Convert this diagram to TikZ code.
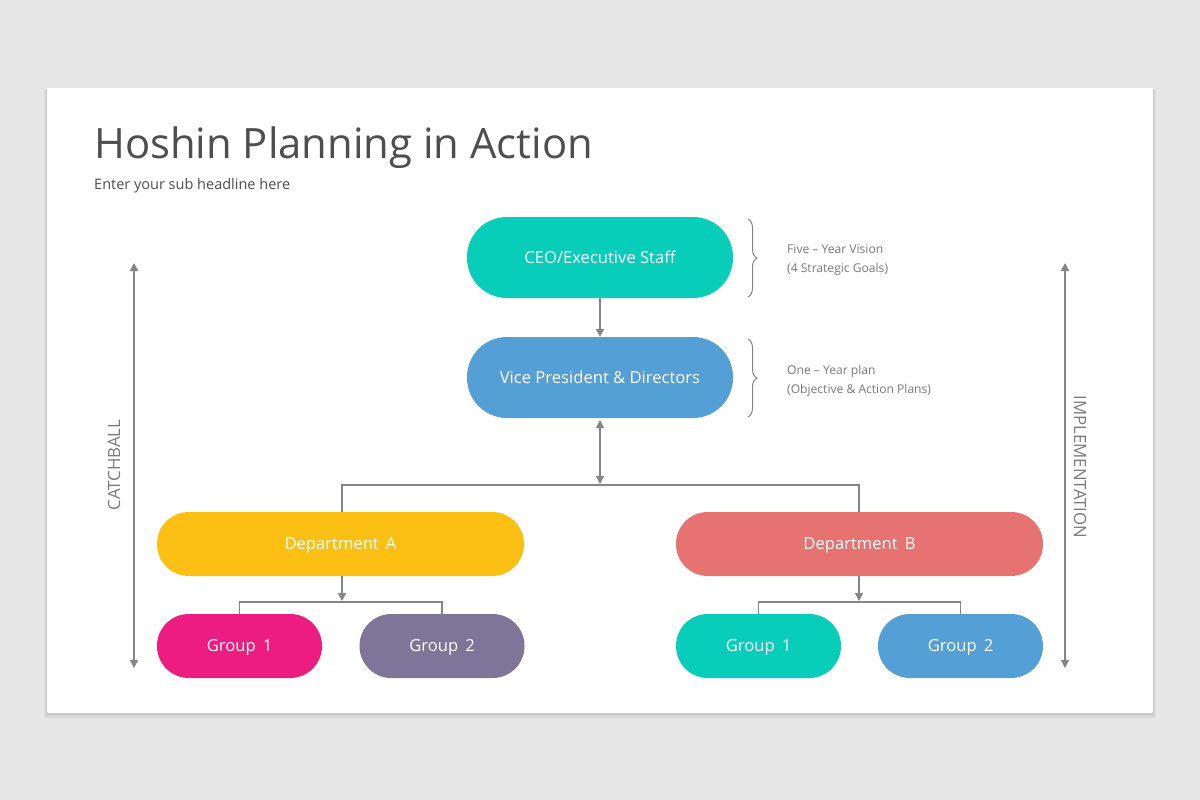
\documentclass[tikz,border=0pt]{standalone}
\usepackage{fontspec}
\setmainfont{Open Sans}
\usetikzlibrary{arrows.meta,decorations.pathreplacing,calc}
\definecolor{bg}{HTML}{E8E7E8}
\definecolor{cteal}{HTML}{08CEB9}
\definecolor{cblue}{HTML}{559FD7}
\definecolor{cyellow}{HTML}{FBC013}
\definecolor{cred}{HTML}{E67272}
\definecolor{cpink}{HTML}{EC1C80}
\definecolor{cpurple}{HTML}{7F7599}
\definecolor{ctitle}{HTML}{4E4E4E}
\definecolor{cnote}{HTML}{7A7A7A}
\definecolor{cline}{HTML}{858585}
\begin{document}
\begin{tikzpicture}[x=1pt,y=-1pt,
  boxtext/.style={text=white,font=\fontsize{16.6}{19}\selectfont,inner sep=0pt,text height=11.9pt,text depth=0pt},
  pill/.style={boxtext,rounded corners=40pt,minimum width=266pt,minimum height=81pt},
  dept/.style={boxtext,rounded corners=31.8pt,minimum width=367pt,minimum height=64pt},
  grp/.style={boxtext,rounded corners=31.8pt,minimum width=165pt,minimum height=64pt},
  conn/.style={draw=cline,line width=1.4pt},
  tip/.style={-{Triangle[width=8pt,length=8pt]}},
  dtip/.style={{Triangle[width=8pt,length=8pt]}-{Triangle[width=8pt,length=8pt]}},
  note/.style={text=cnote,font=\fontsize{12.1}{19}\selectfont,align=left,anchor=west,inner sep=0pt},
  side/.style={text=cnote,font=\fontsize{16.8}{19}\selectfont,inner sep=0pt},
  bracestyle/.style={draw=cline,line width=1pt,decorate,decoration={brace,amplitude=9pt,aspect=0.5}}
]
\useasboundingbox (0,0) rectangle (1200,800);
\fill[bg] (0,0) rectangle (1200,800);
% card shadow
\foreach \i/\o in {6/0.03,4/0.04,2/0.06}{
  \fill[black,opacity=\o] (47-\i*0.5,90-\i*0.2) rectangle (1153+\i*0.5,713+\i);
}
\fill[white] (47,88) rectangle (1153,713);

% titles
\node[anchor=base west,inner sep=0pt,text=ctitle,font=\fontsize{41.8}{48}\selectfont] (title) at (94,158) {Hoshin Planning in Action};
\node[anchor=base west,inner sep=0pt,text=ctitle,font=\fontsize{14.5}{17}\selectfont] (sub) at (94,189) {Enter your sub headline here};

% nodes
\node[pill,fill=cteal] (ceo) at (600,257.5) {CEO/Executive Staff};
\node[pill,fill=cblue] (vp) at (600,377.5) {Vice President \& Directors};
\node[dept,fill=cyellow] (da) at (340.5,544) {Department\, A};
\node[dept,fill=cred] (db) at (859.5,544) {Department\, B};
\node[grp,fill=cpink] (a1) at (239.5,646) {Group\, 1};
\node[grp,fill=cpurple] (a2) at (442,646) {Group\, 2};
\node[grp,fill=cteal] (b1) at (758.5,646) {Group\, 1};
\node[grp,fill=cblue] (b2) at (960.5,646) {Group\, 2};

% connectors
\coordinate (hub) at (600,485);
\coordinate (ja) at (342,602);
\coordinate (jb) at (859,602);
\draw[conn,tip] (ceo.south) -- (vp.north);
\draw[conn,dtip] ($(vp.south)+(0,2)$) -- ($(hub)+(0,-1)$);
\draw[conn] (da.north -| ja) -- (ja |- hub) -- (jb |- hub) -- (db.north -| jb);
\draw[conn,tip] (da.south -| ja) -- ($(ja)+(0,-1)$);
\draw[conn,tip] (db.south -| jb) -- ($(jb)+(0,-1)$);
\draw[conn] (a1.north) -- (a1.north |- ja) -- (a2.north |- ja) -- (a2.north);
\draw[conn] (b1.north) -- (b1.north |- jb) -- (b2.north |- jb) -- (b2.north);

% braces and notes
\coordinate (bc1) at (748,219);
\coordinate (bc2) at (748,297);
\coordinate (bv1) at (748,339);
\coordinate (bv2) at (748,417);
\draw[bracestyle] (bc1) -- (bc2);
\draw[bracestyle] (bv1) -- (bv2);
\node[note] (n1) at (787,260.5) {Five -- Year Vision\\(4 Strategic Goals)};
\node[note] (n2) at (787,380.5) {One -- Year plan\\(Objective \& Action Plans)};

% side arrows
\coordinate (l1) at (134,263);
\coordinate (l2) at (134,668);
\coordinate (r1) at (1065,263);
\coordinate (r2) at (1065,668);
\draw[conn,line width=1.2pt,dtip] (l1) -- (l2);
\draw[conn,line width=1.2pt,dtip] (r1) -- (r2);
\node[side,rotate=90] (catch) at (114,465) {CATCHBALL};
\node[side,rotate=-90] (impl) at (1080,467) {IMPLEMENTATION};
\end{tikzpicture}
\end{document}
